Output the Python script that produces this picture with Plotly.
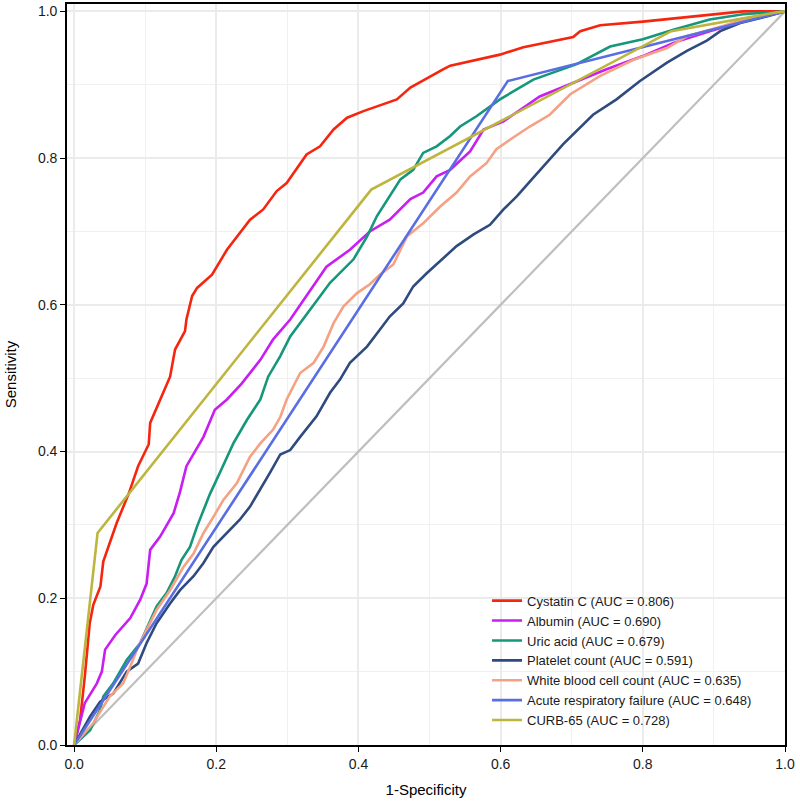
import plotly.graph_objects as go

# ---- data ----
cys_x = [0, 0.0084, 0.015, 0.022, 0.027, 0.037, 0.041, 0.06, 0.077, 0.09, 0.105, 0.107, 0.135, 0.142, 0.156, 0.158, 0.166, 0.173, 0.194, 0.215, 0.2475, 0.266, 0.285, 0.299, 0.327, 0.346, 0.365, 0.384, 0.407, 0.435, 0.454, 0.473, 0.496, 0.519, 0.529, 0.566, 0.599, 0.632, 0.66, 0.702, 0.712, 0.74, 0.80, 0.857, 0.904, 0.941, 1.0]
cys_y = [0, 0.034, 0.093, 0.166, 0.191, 0.216, 0.25, 0.303, 0.343, 0.38, 0.41, 0.439, 0.502, 0.539, 0.564, 0.58, 0.612, 0.623, 0.641, 0.675, 0.716, 0.730, 0.755, 0.766, 0.805, 0.816, 0.839, 0.855, 0.864, 0.873, 0.880, 0.896, 0.909, 0.921, 0.926, 0.934, 0.941, 0.951, 0.957, 0.965, 0.973, 0.981, 0.986, 0.992, 0.996, 1.0, 1.0]

alb_x = [0, 0.0084, 0.015, 0.032, 0.039, 0.0436, 0.058, 0.079, 0.093, 0.102, 0.107, 0.121, 0.14, 0.149, 0.158, 0.182, 0.198, 0.215, 0.236, 0.262, 0.28, 0.304, 0.327, 0.355, 0.388, 0.416, 0.444, 0.473, 0.491, 0.51, 0.529, 0.557, 0.576, 0.604, 0.655, 0.702, 0.749, 0.8, 0.843, 0.894, 0.951, 1.0]
alb_y = [0, 0.034, 0.057, 0.084, 0.1, 0.13, 0.15, 0.173, 0.198, 0.22, 0.266, 0.284, 0.316, 0.345, 0.38, 0.42, 0.457, 0.471, 0.493, 0.525, 0.553, 0.58, 0.612, 0.652, 0.675, 0.700, 0.716, 0.744, 0.753, 0.775, 0.784, 0.809, 0.839, 0.85, 0.884, 0.902, 0.921, 0.939, 0.957, 0.973, 0.989, 1.0]

uric_x = [0, 0.0225, 0.0366, 0.041, 0.055, 0.074, 0.093, 0.105, 0.116, 0.13, 0.142, 0.151, 0.163, 0.173, 0.182, 0.191, 0.205, 0.224, 0.243, 0.262, 0.273, 0.29, 0.304, 0.32, 0.36, 0.393, 0.412, 0.426, 0.444, 0.459, 0.477, 0.491, 0.51, 0.529, 0.543, 0.566, 0.599, 0.646, 0.707, 0.754, 0.8, 0.843, 0.894, 0.941, 1.0]
uric_y = [0, 0.02, 0.048, 0.066, 0.084, 0.116, 0.139, 0.166, 0.189, 0.207, 0.23, 0.252, 0.27, 0.298, 0.32, 0.342, 0.371, 0.411, 0.443, 0.471, 0.502, 0.53, 0.557, 0.578, 0.63, 0.662, 0.693, 0.721, 0.748, 0.771, 0.784, 0.807, 0.816, 0.830, 0.843, 0.857, 0.88, 0.907, 0.928, 0.952, 0.962, 0.975, 0.989, 0.996, 1.0]

plt_x = [0, 0.0225, 0.0366, 0.055, 0.074, 0.09, 0.102, 0.116, 0.135, 0.149, 0.168, 0.182, 0.196, 0.215, 0.233, 0.2475, 0.262, 0.276, 0.29, 0.304, 0.318, 0.341, 0.36, 0.374, 0.388, 0.412, 0.43, 0.444, 0.463, 0.477, 0.496, 0.515, 0.538, 0.562, 0.585, 0.604, 0.623, 0.641, 0.688, 0.73, 0.763, 0.796, 0.834, 0.862, 0.89, 0.909, 0.937, 0.974, 1.0]
plt_y = [0, 0.039, 0.059, 0.07, 0.1, 0.111, 0.139, 0.166, 0.193, 0.211, 0.23, 0.248, 0.27, 0.289, 0.307, 0.325, 0.348, 0.372, 0.396, 0.402, 0.42, 0.448, 0.48, 0.498, 0.521, 0.543, 0.566, 0.584, 0.602, 0.625, 0.643, 0.66, 0.68, 0.696, 0.709, 0.730, 0.748, 0.768, 0.819, 0.859, 0.88, 0.905, 0.93, 0.946, 0.96, 0.973, 0.984, 0.993, 1.0]

wbc_x = [0, 0.027, 0.05, 0.069, 0.079, 0.09, 0.102, 0.116, 0.135, 0.154, 0.168, 0.182, 0.196, 0.21, 0.229, 0.2475, 0.262, 0.28, 0.29, 0.299, 0.318, 0.337, 0.351, 0.365, 0.379, 0.398, 0.416, 0.43, 0.449, 0.468, 0.491, 0.515, 0.538, 0.557, 0.58, 0.594, 0.613, 0.641, 0.669, 0.698, 0.74, 0.787, 0.834, 0.862, 0.913, 0.941, 1.0]
wbc_y = [0, 0.03, 0.066, 0.084, 0.107, 0.134, 0.157, 0.184, 0.211, 0.243, 0.261, 0.289, 0.311, 0.334, 0.357, 0.393, 0.411, 0.43, 0.447, 0.471, 0.507, 0.521, 0.543, 0.575, 0.598, 0.616, 0.628, 0.641, 0.655, 0.693, 0.711, 0.734, 0.753, 0.775, 0.793, 0.812, 0.825, 0.843, 0.859, 0.887, 0.912, 0.934, 0.95, 0.966, 0.98, 0.989, 1.0]

arf_x = [0, 0.61, 1.0]
arf_y = [0, 0.905, 1.0]

curb_x = [0, 0.033, 0.418, 0.84, 0.985, 1.0]
curb_y = [0, 0.289, 0.757, 0.973, 0.998, 1.0]

ref_x = [0, 1]
ref_y = [0, 1]

names = [
    "Cystatin C (AUC = 0.806)",
    "Albumin (AUC = 0.690)",
    "Uric acid (AUC = 0.679)",
    "Platelet count (AUC = 0.591)",
    "White blood cell count (AUC = 0.635)",
    "Acute respiratory failure (AUC = 0.648)",
    "CURB-65 (AUC = 0.728)",
]
colors = ["#F5260F", "#C81EF2", "#15977A", "#2F4A7E", "#F4A184", "#5A6EE3", "#BDB53E"]
series = [(cys_x, cys_y), (alb_x, alb_y), (uric_x, uric_y), (plt_x, plt_y),
          (wbc_x, wbc_y), (arf_x, arf_y), (curb_x, curb_y)]

fig = go.Figure()
fig.add_trace(go.Scatter(x=ref_x, y=ref_y, mode="lines", showlegend=False,
                         line=dict(color="#BEBEBE", width=2.2), hoverinfo="skip"))
for (sx, sy), nm, c in zip(series, names, colors):
    fig.add_trace(go.Scatter(x=sx, y=sy, mode="lines", name=nm,
                             line=dict(color=c, width=2.6)))

font_family = "Liberation Sans, Arial, sans-serif"
axis_common = dict(
    showline=True, linecolor="black", linewidth=1.6, mirror=True,
    ticks="outside", ticklen=5, tickwidth=1.3, tickcolor="black",
    tickfont=dict(size=14, color="#1a1a1a", family=font_family),
    showgrid=True, gridcolor="#EBEBEB", gridwidth=1.6,
    zeroline=False, tickformat=".1f", dtick=0.2, tick0=0,
    minor=dict(dtick=0.1, showgrid=True, gridcolor="#F0F0F0", gridwidth=1.1, ticks=""),
    automargin=False,
)
fig.update_xaxes(range=[-0.01, 1.0], title=dict(text="1-Specificity", font=dict(size=15, color="black", family=font_family), standoff=14), **axis_common)
fig.update_yaxes(range=[0, 1.01], title=dict(text="Sensitivity", font=dict(size=15, color="black", family=font_family), standoff=18), **axis_common)

fig.update_layout(
    width=800, height=804,
    margin=dict(l=67, r=15, t=4, b=59),
    paper_bgcolor="white", plot_bgcolor="white",
    font=dict(family=font_family, color="black"),
    legend=dict(x=0.585, y=0.215, xanchor="left", yanchor="top",
                bgcolor="rgba(0,0,0,0)", font=dict(size=13, color="#1a1a1a", family=font_family),
                itemwidth=30, tracegroupgap=0),
)

fig.write_html("out.html", config={"displayModeBar": False},
               post_script="document.body.style.margin='0';")
